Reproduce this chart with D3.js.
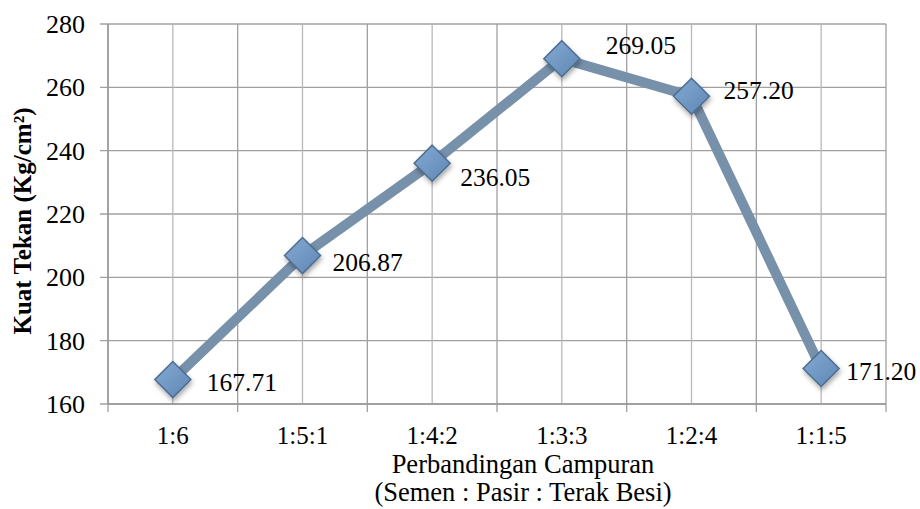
<!DOCTYPE html>
<html><head><meta charset="utf-8">
<script src="https://cdn.jsdelivr.net/npm/d3@7"></script>
<style>body{margin:0;background:#fff}</style>
</head><body>
<svg id="c" width="920" height="509" font-family="'Liberation Serif', serif"></svg>
<script>
const categories = ["1:6","1:5:1","1:4:2","1:3:3","1:2:4","1:1:5"];
const values = [167.71, 206.87, 236.05, 269.05, 257.20, 171.20];
const yTicks = [160,180,200,220,240,260,280];
const labelOffsets = [[34,2],[30,6],[28,14],[44,-14],[32,-6],[25,3]];

const svg = d3.select("#c");
const L=108,R=886,T=24,B=404;
const x = d3.scaleBand().domain(categories).range([L,R]);
const y = d3.scaleLinear().domain([160,280]).range([B,T]);
const cx = d => x(d)+x.bandwidth()/2;

const defs = svg.append("defs");
const g = defs.append("linearGradient").attr("id","mg").attr("x1","0").attr("y1","0").attr("x2","1").attr("y2","1");
g.append("stop").attr("offset","0").attr("stop-color","#84aad3");
g.append("stop").attr("offset","1").attr("stop-color","#5f87b4");
const f = defs.append("filter").attr("id","sh").attr("x","-50%").attr("y","-50%").attr("width","200%").attr("height","200%");
f.append("feDropShadow").attr("dx",1).attr("dy",3).attr("stdDeviation",2.5).attr("flood-color","#000").attr("flood-opacity",0.35);

svg.append("g").selectAll("line").data(yTicks).join("line")
  .attr("x1",L-8).attr("x2",R).attr("y1",d=>y(d)).attr("y2",d=>y(d))
  .attr("stroke","#a0a0a0").attr("stroke-width",1.3);
const bounds = categories.map(c=>x(c)).concat([R]);
svg.append("g").selectAll("line").data(bounds).join("line")
  .attr("x1",d=>d).attr("x2",d=>d).attr("y1",T).attr("y2",B+8)
  .attr("stroke","#a0a0a0").attr("stroke-width",1.3);
svg.append("g").selectAll("line").data(categories).join("line")
  .attr("x1",d=>cx(d)).attr("x2",d=>cx(d)).attr("y1",T).attr("y2",B)
  .attr("stroke","#b8b8b8").attr("stroke-width",1.3);
svg.append("line").attr("x1",L).attr("x2",R).attr("y1",B).attr("y2",B).attr("stroke","#999").attr("stroke-width",1.5);
svg.append("line").attr("x1",L).attr("x2",L).attr("y1",T).attr("y2",B).attr("stroke","#999").attr("stroke-width",1.5);

svg.append("g").selectAll("text").data(yTicks).join("text")
  .attr("x",85).attr("y",d=>y(d)).attr("dy","0.35em").attr("text-anchor","end")
  .attr("font-size",26).text(d=>d);
svg.append("g").selectAll("text").data(categories).join("text")
  .attr("x",d=>cx(d)).attr("y",444).attr("text-anchor","middle")
  .attr("font-size",25).text(d=>d);
svg.append("text").attr("x",523).attr("y",473).attr("text-anchor","middle").attr("font-size",26.5).text("Perbandingan Campuran");
svg.append("text").attr("x",523).attr("y",501).attr("text-anchor","middle").attr("font-size",26.5).text("(Semen : Pasir : Terak Besi)");
svg.append("text").attr("transform","translate(22,221) rotate(-90)").attr("dy","0.35em").attr("text-anchor","middle")
  .attr("font-size",25).attr("font-weight","bold").text("Kuat Tekan (Kg/cm²)");

const line = d3.line().x((d,i)=>cx(categories[i])).y(d=>y(d));
svg.append("path").datum(values).attr("d",line).attr("fill","none")
  .attr("stroke","#7891ab").attr("stroke-width",10).attr("stroke-linejoin","round");

const s=18;
svg.append("g").selectAll("path").data(values).join("path")
  .attr("transform",(d,i)=>`translate(${cx(categories[i])},${y(d)})`)
  .attr("d",`M0,${-s}L${s},0L0,${s}L${-s},0Z`)
  .attr("fill","url(#mg)").attr("stroke","#4d6d90").attr("stroke-width",1.5)
  .attr("filter","url(#sh)");

svg.append("g").selectAll("text").data(values).join("text")
  .attr("x",(d,i)=>cx(categories[i])+labelOffsets[i][0])
  .attr("y",(d,i)=>y(d)+labelOffsets[i][1]).attr("dy","0.35em")
  .attr("font-size",25.5).text(d=>d.toFixed(2));
</script>
</body></html>
